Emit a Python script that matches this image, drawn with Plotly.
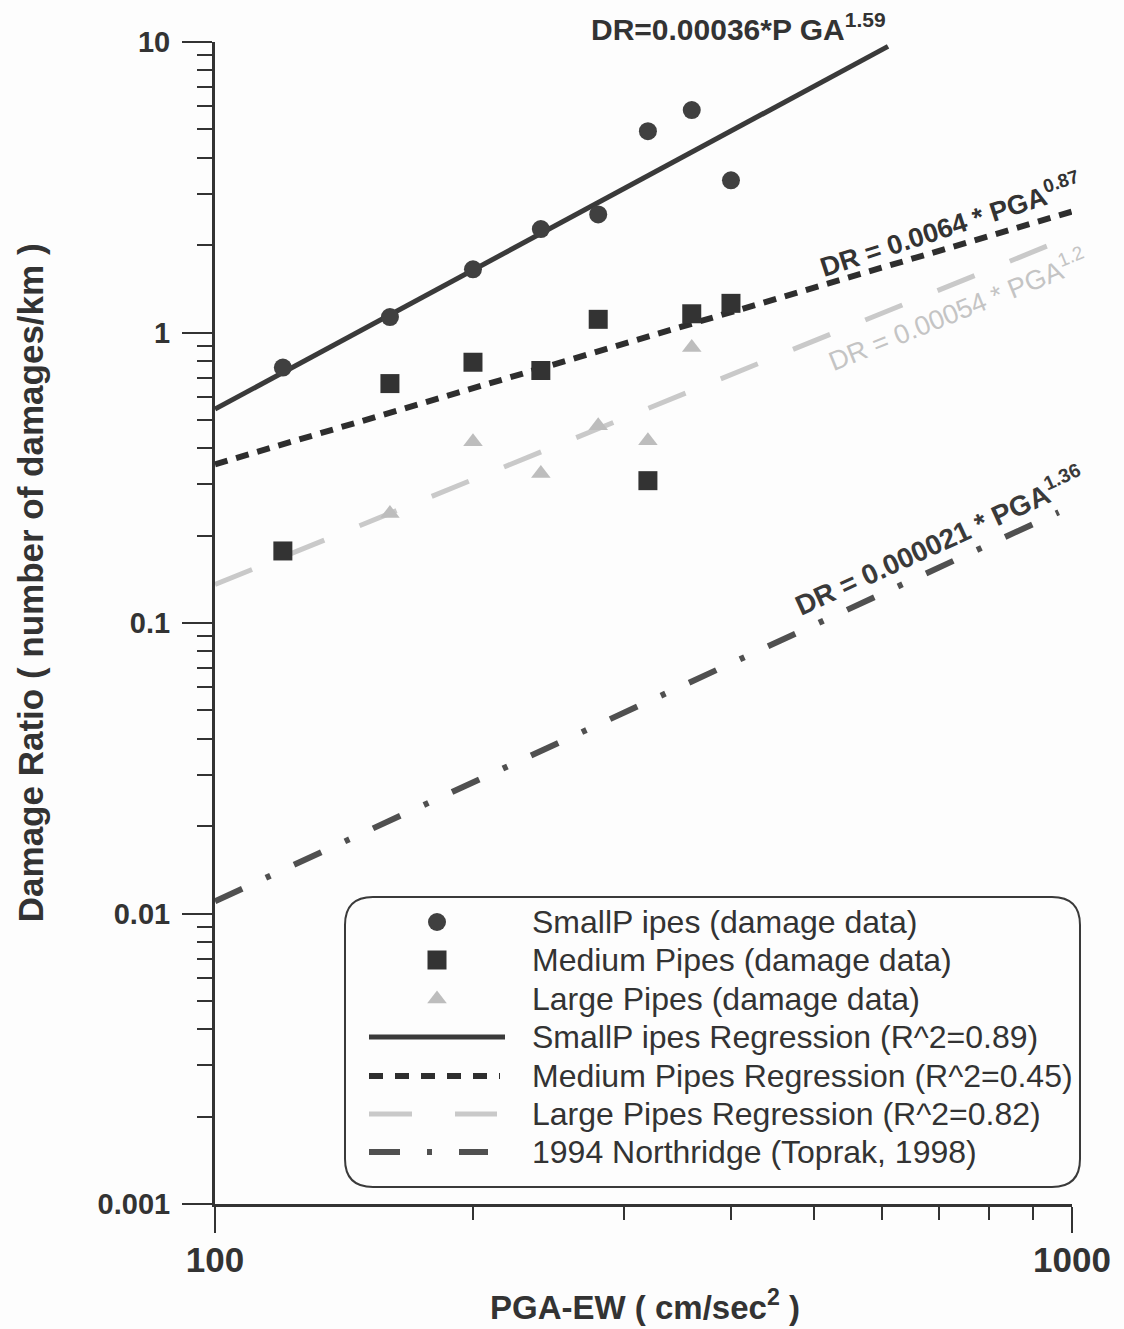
import numpy as np
import plotly.graph_objects as go

# ---------------- data ----------------
pga = [120, 160, 200, 240, 280, 320, 360, 400]
small_dr = [0.757, 1.13, 1.65, 2.27, 2.55, 4.93, 5.83, 3.34]
medium_dr = [0.177, 0.667, 0.79, 0.74, 1.11, 0.309, 1.16, 1.26]
large_pga = [160, 200, 240, 280, 320, 360]
large_dr = [0.238, 0.421, 0.327, 0.478, 0.424, 0.888]

reg_names = ["SmallP ipes Regression (R^2=0.89)", "Medium Pipes Regression (R^2=0.45)",
             "Large Pipes Regression (R^2=0.82)", "1994 Northridge (Toprak, 1998)"]
reg_coef = [0.00036, 0.0064, 0.00054, 0.000021]
reg_exp = [1.59, 0.87, 1.2, 1.36]
reg_pga_start = [100, 100, 100, 100]
reg_pga_end = [610, 1000, 960, 965]

marker_names = ["SmallP ipes (damage data)", "Medium Pipes (damage data)", "Large Pipes (damage data)"]

x_tickvals = [100, 1000]
x_ticktext = ["100", "1000"]
y_tickvals = [0.001, 0.01, 0.1, 1, 10]
y_ticktext = ["0.001", "0.01", "0.1", "1", "10"]

FONT = "Liberation Sans, Arial, sans-serif"

# styles
reg_colors = ["#3a3a3a", "#2e2e2e", "#c9c9c9", "#505050"]
reg_dash = ["solid", "13px,9px", "40px,38px", "30px,26px,5px,26px"]
reg_width = [5, 6, 5, 6]
mk_colors = ["#404040", "#333333", "#bdbdbd"]
mk_symbols = ["circle", "square", "triangle-up"]
mk_sizes = [18, 19, 17]

# plot area in pixels (for placing the legend box)
PX_L, PX_R, PX_T, PX_B = 215, 1072, 42, 1204

def px2paper(px, py):
    return (px - PX_L) / (PX_R - PX_L), (PX_B - py) / (PX_B - PX_T)

fig = go.Figure()

# regression lines
for i in range(4):
    xs = np.array([reg_pga_start[i], reg_pga_end[i]], dtype=float)
    ys = reg_coef[i] * xs ** reg_exp[i]
    fig.add_trace(go.Scatter(x=xs, y=ys, mode="lines", name=reg_names[i], showlegend=False,
                             line=dict(color=reg_colors[i], width=reg_width[i], dash=reg_dash[i])))

# data markers
for xs, ys, i in [(pga, small_dr, 0), (pga, medium_dr, 1), (large_pga, large_dr, 2)]:
    fig.add_trace(go.Scatter(x=xs, y=ys, mode="markers", name=marker_names[i], showlegend=False,
                             marker=dict(symbol=mk_symbols[i], size=mk_sizes[i], color=mk_colors[i],
                                         line=dict(width=0))))

# ---------------- manual legend ----------------
rows_y = [922, 960, 999, 1037, 1076, 1114, 1152]
bx0, bx1, by0, by1, r = 345, 1080, 897, 1187, 28
def P(px, py):
    a, b = px2paper(px, py)
    return f"{a:.5f},{b:.5f}"
path = (f"M {P(bx0+r,by0)} L {P(bx1-r,by0)} Q {P(bx1,by0)} {P(bx1,by0+r)} L {P(bx1,by1-r)} "
        f"Q {P(bx1,by1)} {P(bx1-r,by1)} L {P(bx0+r,by1)} Q {P(bx0,by1)} {P(bx0,by1-r)} "
        f"L {P(bx0,by0+r)} Q {P(bx0,by0)} {P(bx0+r,by0)} Z")
fig.add_shape(type="path", path=path, xref="paper", yref="paper", layer="below",
              line=dict(color="#3a3a3a", width=2), fillcolor="rgba(255,255,255,0)")

for i in range(3):
    fig.add_trace(go.Scatter(x=[437], y=[rows_y[i]], xaxis="x2", yaxis="y2", mode="markers",
                             showlegend=False, hoverinfo="skip",
                             marker=dict(symbol=mk_symbols[i], size=mk_sizes[i], color=mk_colors[i])))
sample_end = [505, 500, 497, 488]
sample_dash = ["solid", "14px,12px", "43px,43px", "31px,27px,5px,27px"]
for i in range(4):
    fig.add_trace(go.Scatter(x=[369, sample_end[i]], y=[rows_y[3 + i]] * 2, xaxis="x2", yaxis="y2",
                             mode="lines", showlegend=False, hoverinfo="skip",
                             line=dict(color=reg_colors[i], width=reg_width[i], dash=sample_dash[i])))
legend_labels = marker_names + reg_names
for i, lab in enumerate(legend_labels):
    fig.add_annotation(x=530, y=rows_y[i], xref="x2", yref="y2", text=lab, showarrow=False,
                       xanchor="left", yanchor="middle",
                       font=dict(family=FONT, size=32, color="#333333"))

# ---------------- equation labels ----------------
def line_val(i, p):
    return reg_coef[i] * p ** reg_exp[i]

fig.add_annotation(x=np.log10(610), y=np.log10(line_val(0, 610)), xref="x", yref="y",
                   text="DR=0.00036*P GA<sup>1.59</sup>", showarrow=False,
                   xanchor="right", yanchor="bottom", xshift=0, yshift=-2,
                   font=dict(family=FONT, size=30, color="#333333", weight="bold"))
p = 722
fig.add_annotation(x=np.log10(p), y=np.log10(line_val(1, p)), xref="x", yref="y",
                   text="DR = 0.0064 * PGA<sup>0.87</sup>", showarrow=False, textangle=-18,
                   xanchor="center", yanchor="middle", yshift=23,
                   font=dict(family=FONT, size=27, color="#333333", weight="bold"))
p = 735
fig.add_annotation(x=np.log10(p), y=np.log10(line_val(2, p)), xref="x", yref="y",
                   text="DR = 0.00054 * PGA<sup>1.2</sup>", showarrow=False, textangle=-22,
                   xanchor="center", yanchor="middle", yshift=-26,
                   font=dict(family=FONT, size=27, color="#c4c4c4"))
p = 700
fig.add_annotation(x=np.log10(p), y=np.log10(line_val(3, p)), xref="x", yref="y",
                   text="DR = 0.000021 * PGA<sup>1.36</sup>", showarrow=False, textangle=-24.5,
                   xanchor="center", yanchor="middle", yshift=27,
                   font=dict(family=FONT, size=28, color="#3a3a3a", weight="bold"))

# axis titles
fig.add_annotation(x=-0.216, y=0.535, xref="paper", yref="paper", textangle=-90,
                   text="Damage Ratio ( number of damages/km )", showarrow=False,
                   xanchor="center", yanchor="middle",
                   font=dict(family=FONT, size=35, color="#333333", weight="bold"))
fig.add_annotation(x=0.502, y=-0.087, xref="paper", yref="paper",
                   text="PGA-EW ( cm/sec<sup>2</sup> )", showarrow=False,
                   xanchor="center", yanchor="middle",
                   font=dict(family=FONT, size=33, color="#333333", weight="bold"))

y_minor = [k * 10.0 ** e for e in range(-3, 1) for k in range(2, 10)]
x_minor = [k * 100 for k in range(2, 10)]

fig.update_layout(
    width=1124, height=1329,
    margin=dict(l=PX_L, r=1124 - PX_R, t=PX_T, b=1329 - PX_B),
    paper_bgcolor="#fdfdfd", plot_bgcolor="rgba(0,0,0,0)",
    showlegend=False,
    xaxis=dict(type="log", range=[2, 3], tickmode="array", tickvals=x_tickvals, ticktext=x_ticktext,
               ticks="outside", ticklen=26, tickwidth=2, tickcolor="#333333",
               showline=True, linewidth=3, linecolor="#333333", mirror=False,
               showgrid=False, zeroline=False, ticklabelstandoff=-3,
               tickfont=dict(family=FONT, size=35, color="#333333", weight="bold"),
               minor=dict(tickmode="array", tickvals=x_minor, ticks="outside", ticklen=13,
                          tickwidth=2, tickcolor="#333333", showgrid=False)),
    yaxis=dict(type="log", range=[-3, 1], tickmode="array", tickvals=y_tickvals, ticktext=y_ticktext,
               ticks="outside", ticklen=30, tickwidth=2, tickcolor="#333333",
               showline=True, linewidth=3, linecolor="#333333", mirror=False,
               showgrid=False, zeroline=False, ticklabelstandoff=6,
               tickfont=dict(family=FONT, size=29, color="#333333", weight="bold"),
               minor=dict(tickmode="array", tickvals=y_minor, ticks="outside", ticklen=15,
                          tickwidth=2, tickcolor="#333333", showgrid=False)),
    xaxis2=dict(overlaying="x", anchor="y2", range=[PX_L, PX_R], visible=False, showgrid=False),
    yaxis2=dict(overlaying="y", anchor="x2", range=[PX_B, PX_T], visible=False, showgrid=False),
)

fig.write_html("out.html")
